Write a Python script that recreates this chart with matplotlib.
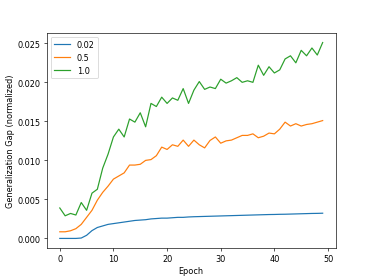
import matplotlib
matplotlib.use("Agg")
import matplotlib.pyplot as plt
import numpy as np

epochs = list(range(50))
labels = ["0.02", "0.5", "1.0"]

gap_002 = [0.0, 0.0, 0.0, 0.0, 0.00005, 0.0004, 0.0010, 0.0014, 0.0016, 0.0018,
           0.0019, 0.0020, 0.0021, 0.0022, 0.0023, 0.00235, 0.0024, 0.0025, 0.00255, 0.0026,
           0.0026, 0.00265, 0.0027, 0.0027, 0.00275, 0.00278, 0.0028, 0.00282, 0.00284, 0.00286,
           0.00288, 0.0029, 0.00292, 0.00294, 0.00296, 0.00298, 0.003, 0.00302, 0.00304, 0.00306,
           0.00307, 0.00309, 0.0031, 0.00312, 0.00314, 0.00316, 0.00318, 0.0032, 0.00321, 0.00323]

gap_05 = [0.00085, 0.00085, 0.00098, 0.00125, 0.0018, 0.0027, 0.0036, 0.0049, 0.0059, 0.0067,
          0.0076, 0.0080, 0.0084, 0.0094, 0.0094, 0.0095, 0.0100, 0.0101, 0.0106, 0.0117,
          0.0114, 0.0120, 0.0118, 0.0126, 0.0118, 0.0126, 0.0120, 0.0116, 0.01255, 0.0130,
          0.0122, 0.0125, 0.0126, 0.0129, 0.0132, 0.0132, 0.0134, 0.0129, 0.0131, 0.0135,
          0.0134, 0.0140, 0.0149, 0.0144, 0.0147, 0.0144, 0.0146, 0.0147, 0.0149, 0.0151]

gap_10 = [0.0039, 0.0029, 0.0032, 0.0030, 0.0046, 0.0036, 0.0058, 0.0063, 0.0090, 0.0108,
          0.0130, 0.0140, 0.0130, 0.0153, 0.0149, 0.0161, 0.0143, 0.0173, 0.0169, 0.0181,
          0.0173, 0.0180, 0.0177, 0.0192, 0.0173, 0.0190, 0.0201, 0.0191, 0.0194, 0.0192,
          0.0204, 0.0199, 0.0202, 0.0206, 0.0200, 0.0202, 0.0200, 0.0222, 0.0209, 0.0220,
          0.0212, 0.0216, 0.0230, 0.0234, 0.0225, 0.0241, 0.0234, 0.0244, 0.0235, 0.0251]

fig, ax = plt.subplots(figsize=(6.4, 4.8), dpi=58.3)
for series, lab in zip([gap_002, gap_05, gap_10], labels):
    ax.plot(epochs, series, label=lab)
ax.set_xlabel("Epoch")
ax.set_ylabel("Generalization Gap (normalized)")
ax.legend(loc="upper left")
fig.savefig("out.png", dpi=58.3)
